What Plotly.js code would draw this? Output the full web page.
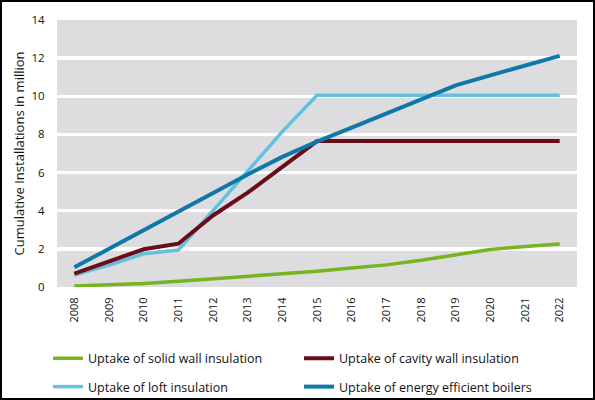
<!DOCTYPE html>
<html>
<head>
<meta charset="utf-8">
<script src="https://cdn.plot.ly/plotly-3.0.1.min.js"></script>
<style>
html,body{margin:0;padding:0;background:#fff;}
#wrap{position:relative;width:595px;height:400px;}
#chart{width:595px;height:400px;}
#frame{position:absolute;left:0;top:0;width:595px;height:400px;box-sizing:border-box;border:2px solid #000;pointer-events:none;}
</style>
</head>
<body>
<div id="wrap"><div id="chart"></div><div id="frame"></div></div>
<script>
const years = ['2008','2009','2010','2011','2012','2013','2014','2015','2016','2017','2018','2019','2020','2021','2022'];
const solidWall = [0.05,0.1,0.18,0.3,0.42,0.55,0.68,0.82,1.0,1.16,1.4,1.68,1.97,2.12,2.26];
const cavityWall = [0.7,1.35,1.98,2.27,3.75,4.95,6.3,7.65,7.65,7.65,7.65,7.65,7.65,7.65,7.65];
const loft = [0.62,1.15,1.74,1.94,4.0,6.1,8.15,10.05,10.05,10.05,10.05,10.05,10.05,10.05,10.05];
const boilers = [1.03,2.0,3.0,3.98,4.95,5.9,6.82,7.62,8.36,9.1,9.85,10.57,11.1,11.62,12.12];
const seriesNames = ['Uptake of solid wall insulation','Uptake of cavity wall insulation','Uptake of loft insulation','Uptake of energy efficient boilers'];
const yTicks = [0,2,4,6,8,10,12,14];

const font = 'Open Sans, Noto Sans, sans-serif';
const traces = [
  {x: years, y: solidWall, name: seriesNames[0], type:'scatter', mode:'lines', line:{color:'#78b41e', width:3.5}, legend:'legend'},
  {x: years, y: cavityWall, name: seriesNames[1], type:'scatter', mode:'lines', line:{color:'#6b0d17', width:4}, legend:'legend'},
  {x: years, y: loft, name: seriesNames[2], type:'scatter', mode:'lines', line:{color:'#62c1e0', width:3.5}, legend:'legend2'},
  {x: years, y: boilers, name: seriesNames[3], type:'scatter', mode:'lines', line:{color:'#0f78a8', width:4}, legend:'legend2'}
];
const order = [traces[0], traces[2], traces[1], traces[3]];

const legendCommon = {
  orientation:'h', xref:'container', yref:'container', xanchor:'left', yanchor:'middle', x:48/595,
  entrywidth:206, entrywidthmode:'pixels',
  font:{family:font, size:12.5, color:'#111'}, bgcolor:'rgba(0,0,0,0)',
  traceorder:'normal'
};

const layout = {
  width:595, height:400,
  margin:{l:57, r:18, t:20, b:113},
  paper_bgcolor:'#ffffff',
  plot_bgcolor:'#dddcdf',
  font:{family:font, color:'#111'},
  xaxis:{
    type:'category', range:[-0.5,14.5], showgrid:false, zeroline:false, showline:false,
    tickangle:-90, tickfont:{family:font, size:11, color:'#111'},
    ticks:'outside', ticklen:5, tickcolor:'rgba(0,0,0,0)', fixedrange:true
  },
  yaxis:{
    range:[0,14], tickvals:yTicks, showgrid:true, gridcolor:'#ffffff', gridwidth:3.5,
    zeroline:false, showline:false,
    tickfont:{family:font, size:11.5, color:'#111'},
    ticks:'outside', ticklen:9, tickcolor:'rgba(0,0,0,0)',
    title:{text:'Cumulative Installations in million', font:{family:font, size:13, color:'#111'}, standoff:3},
    automargin:false
  },
  showlegend:true,
  legend:Object.assign({}, legendCommon, {y:1-358.7/400}),
  legend2:Object.assign({}, legendCommon, {y:1-387/400})
};

Plotly.newPlot('chart', order, layout, {displayModeBar:false, staticPlot:true});
</script>
</body>
</html>
